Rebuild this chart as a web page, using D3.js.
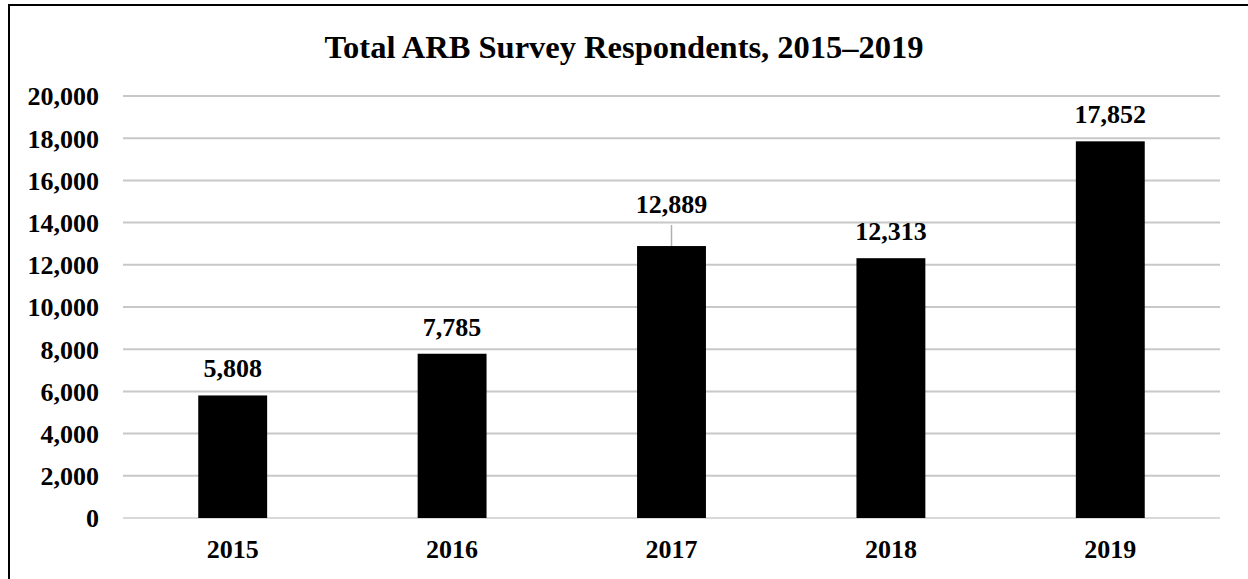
<!DOCTYPE html>
<html><head><meta charset="utf-8">
<script src="https://cdn.jsdelivr.net/npm/d3@7"></script>
<style>
html,body{margin:0;padding:0;background:#fff;overflow:hidden;}
svg{display:block;font-family:"Liberation Serif","Times New Roman",serif;font-weight:bold;}
</style></head>
<body>
<svg id="chart" width="1248" height="579"></svg>
<script>
const categories = ["2015","2016","2017","2018","2019"];
const values = [5808, 7785, 12889, 12313, 17852];
const yTicks = [0,2000,4000,6000,8000,10000,12000,14000,16000,18000,20000];
const title = "Total ARB Survey Respondents, 2015\u20132019";

const svg = d3.select("#chart");
const W = 1248, H = 579;
const plot = {left:123, right:1220, top:96, bottom:518};

svg.append("rect").attr("x",9).attr("y",5).attr("width",W+20).attr("height",H+20)
  .attr("fill","#fff").attr("stroke","#000").attr("stroke-width",2);

const x = d3.scaleBand().domain(categories).range([plot.left, plot.right]).paddingInner(0.686).paddingOuter(0.343);
const y = d3.scaleLinear().domain([0,20000]).range([plot.bottom, plot.top]);

svg.append("text").attr("x",624).attr("y",58).attr("text-anchor","middle")
  .attr("font-size",32.5).attr("fill","#000").text(title);

// gridlines
svg.append("g").selectAll("line").data(yTicks).join("line")
  .attr("x1",plot.left).attr("x2",plot.right)
  .attr("y1",d=>y(d)).attr("y2",d=>y(d))
  .attr("stroke",d=>d===0?"#d9d9d9":"#c8c8c8").attr("stroke-width",2);

// y axis labels
const yAxis = d3.axisLeft(y).tickValues(yTicks).tickFormat(d3.format(",")).tickSize(0).tickPadding(24);
const gy = svg.append("g").attr("transform",`translate(${plot.left},0)`).call(yAxis);
gy.select(".domain").remove();
gy.selectAll("text").attr("font-size",26).attr("font-family","Liberation Serif, serif").attr("font-weight","bold").attr("fill","#000").attr("dy","0.34em");

// x axis labels
const xAxis = d3.axisBottom(x).tickSize(0).tickPadding(22);
const gx = svg.append("g").attr("transform",`translate(0,${plot.bottom})`).call(xAxis);
gx.select(".domain").remove();
gx.selectAll("text").attr("font-size",26).attr("font-family","Liberation Serif, serif").attr("font-weight","bold").attr("fill","#000");

// bars
svg.append("g").selectAll("rect").data(values).join("rect")
  .attr("x",(d,i)=>x(categories[i])).attr("width",x.bandwidth())
  .attr("y",d=>y(d)).attr("height",d=>y(0)-y(d)).attr("fill","#000");

// labels (2017 offset with leader line)
const offset = [18,18,33,18,18];
svg.append("g").selectAll("line").data([values[2]]).join("line")
  .attr("x1",x("2017")+x.bandwidth()/2).attr("x2",x("2017")+x.bandwidth()/2)
  .attr("y1",d=>y(d)-offset[2]+12).attr("y2",d=>y(d))
  .attr("stroke","#b0b0b0").attr("stroke-width",1.5);
svg.append("g").selectAll("text").data(values).join("text")
  .attr("x",(d,i)=>x(categories[i])+x.bandwidth()/2)
  .attr("y",(d,i)=>y(d)-offset[i])
  .attr("text-anchor","middle").attr("font-size",26).attr("fill","#000")
  .text(d=>d3.format(",")(d));
</script>
</body></html>
